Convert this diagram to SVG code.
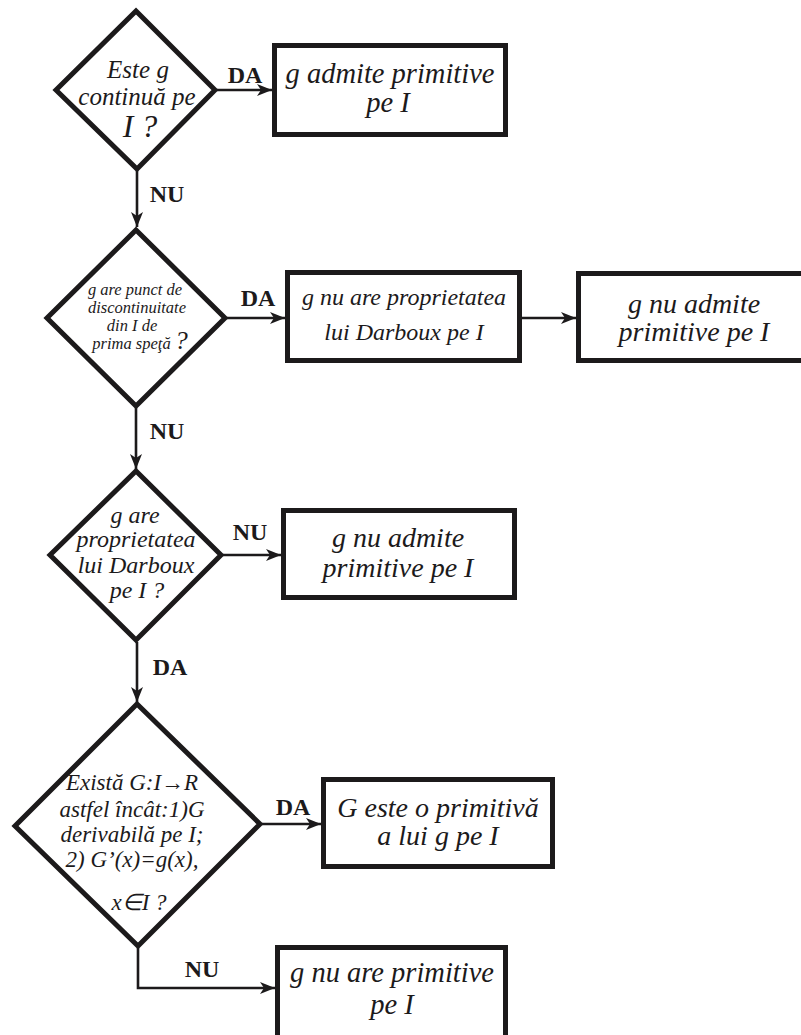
<svg xmlns="http://www.w3.org/2000/svg" width="801" height="1035" viewBox="0 0 801 1035">
<style>
.shape{fill:#fff;stroke:#1c1a1b;stroke-width:5;stroke-linejoin:miter}
.conn{fill:none;stroke:#1c1a1b;stroke-width:2.6}
.t{font-family:"Liberation Serif","Times New Roman",serif;font-style:italic;fill:#1c1a1b;text-anchor:middle}
.lbl{font-family:"Liberation Serif","Times New Roman",serif;font-weight:bold;fill:#1c1a1b;text-anchor:middle;font-size:24px}
</style>
<defs>
<marker id="arr" markerUnits="userSpaceOnUse" markerWidth="16" markerHeight="12" refX="15" refY="6" orient="auto">
<path d="M0,0 L15,6 L0,12 L4,6 z" fill="#1c1a1b"/>
</marker>
</defs>
<rect width="801" height="1035" fill="#fff"/>
<g id="connectors">
<line class="conn" x1="137" y1="171" x2="137" y2="227" marker-end="url(#arr)"/>
<line class="conn" x1="217" y1="90" x2="272" y2="90" marker-end="url(#arr)"/>
<line class="conn" x1="227" y1="318" x2="285" y2="318" marker-end="url(#arr)"/>
<line class="conn" x1="522" y1="318" x2="576" y2="318" marker-end="url(#arr)"/>
<line class="conn" x1="136" y1="408" x2="136" y2="469" marker-end="url(#arr)"/>
<line class="conn" x1="223" y1="555" x2="281" y2="555" marker-end="url(#arr)"/>
<line class="conn" x1="137" y1="642" x2="137" y2="702" marker-end="url(#arr)"/>
<line class="conn" x1="262" y1="824" x2="321" y2="824" marker-end="url(#arr)"/>
<polyline class="conn" points="138,948 138,988 275,988" marker-end="url(#arr)"/>
<text class="lbl" x="245" y="83">DA</text>
<text class="lbl" x="167" y="202">NU</text>
<text class="lbl" x="258" y="306">DA</text>
<text class="lbl" x="167" y="439">NU</text>
<text class="lbl" x="250" y="540">NU</text>
<text class="lbl" x="170" y="675">DA</text>
<text class="lbl" x="293" y="815">DA</text>
<text class="lbl" x="202" y="977">NU</text>
</g>
<g id="d1">
<polygon class="shape" points="136,11 215,90 137,169 56,90"/>
<text class="t" font-size="25" x="138" y="78">Este g</text>
<text class="t" font-size="25" x="137" y="105">continuă pe</text>
<text class="t" font-size="32" x="140" y="137">I ?</text>
</g>
<g id="b1">
<rect class="shape" x="274.5" y="45.5" width="231" height="89"/>
<text class="t" font-size="28.5" x="390" y="83">g admite primitive</text>
<text class="t" font-size="28.5" x="388" y="112">pe I</text>
</g>
<g id="d2">
<polygon class="shape" points="136,230 225,318 136,406 47,318"/>
<text class="t" font-size="16.5" x="135" y="295">g are punct de</text>
<text class="t" font-size="16.5" x="137" y="313">discontinuitate</text>
<text class="t" font-size="16.5" x="132" y="331">din I de</text>
<text class="t" font-size="16.5" x="140" y="349">prima speţă <tspan font-size="26">?</tspan></text>
</g>
<g id="b2">
<rect class="shape" x="287.5" y="272.5" width="232" height="88"/>
<text class="t" font-size="24" x="404" y="305">g nu are proprietatea</text>
<text class="t" font-size="24" x="404" y="340">lui Darboux pe I</text>
</g>
<g id="b3">
<rect class="shape" x="578.5" y="273.5" width="260" height="87"/>
<text class="t" font-size="28" x="694" y="313">g nu admite</text>
<text class="t" font-size="28" x="694" y="341">primitive pe I</text>
</g>
<g id="d3">
<polygon class="shape" points="136,471 221,555 136,640 50,555"/>
<text class="t" font-size="24" x="135" y="523">g  are</text>
<text class="t" font-size="24" x="136" y="547">proprietatea</text>
<text class="t" font-size="24" x="136" y="573">lui Darboux</text>
<text class="t" font-size="24" x="137" y="598">pe I ?</text>
</g>
<g id="b4">
<rect class="shape" x="283.5" y="510.5" width="231" height="87"/>
<text class="t" font-size="28" x="398" y="547">g nu admite</text>
<text class="t" font-size="28" x="398" y="577">primitive pe I</text>
</g>
<g id="d4">
<polygon class="shape" points="137,704 260,824 138,946 15,826"/>
<text class="t" font-size="23" x="132" y="790">Există G:I→R</text>
<text class="t" font-size="23" x="132" y="817">astfel încât:1)G</text>
<text class="t" font-size="23" x="132" y="842">derivabilă pe I;</text>
<text class="t" font-size="23" x="132" y="867">2) G’(x)=g(x),</text>
<text class="t" font-size="23" x="139" y="910">x∈I ?</text>
</g>
<g id="b5">
<rect class="shape" x="323.5" y="779.5" width="229" height="87"/>
<text class="t" font-size="28" x="438" y="817">G este o primitivă</text>
<text class="t" font-size="28" x="438" y="845">a lui g pe I</text>
</g>
<g id="b6">
<rect class="shape" x="277.5" y="947.5" width="228" height="120"/>
<text class="t" font-size="28.5" x="392" y="982">g nu are primitive</text>
<text class="t" font-size="28.5" x="392" y="1014">pe I</text>
</g>
</svg>
